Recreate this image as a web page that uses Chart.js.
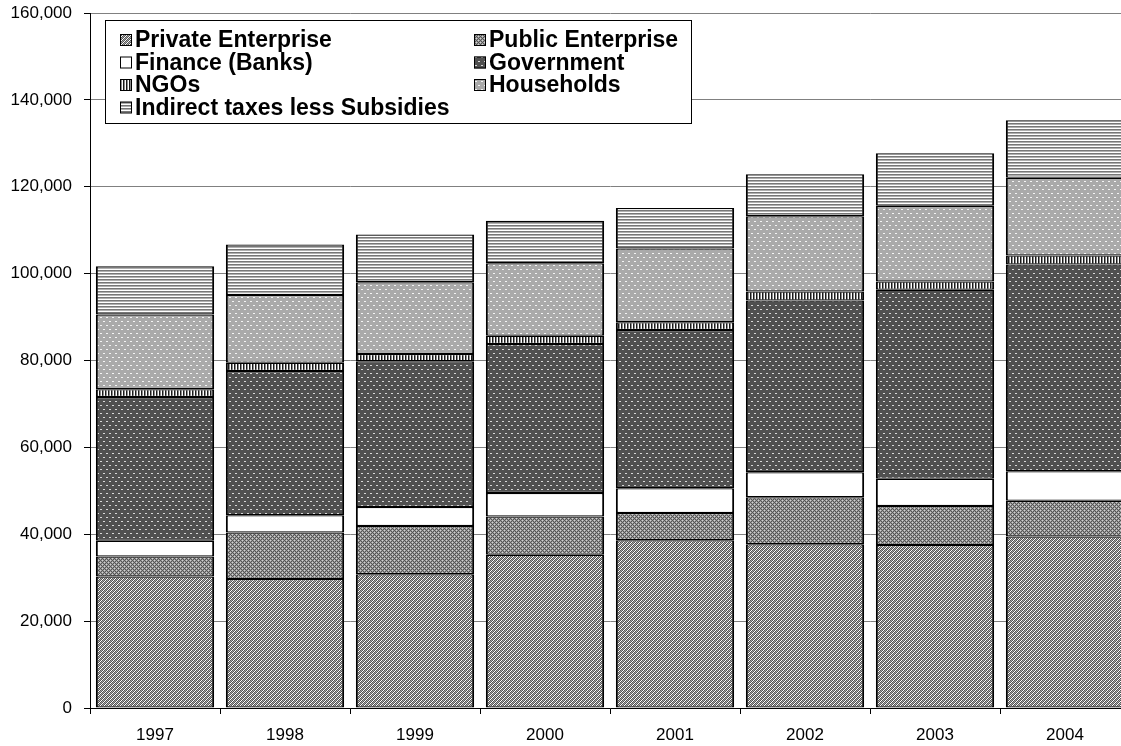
<!DOCTYPE html>
<html>
<head>
<meta charset="utf-8">
<script src="https://cdn.jsdelivr.net/npm/chart.js@4.4.1/dist/chart.umd.min.js"></script>
<style>
    html, body { margin: 0; padding: 0; background: #fff; overflow: hidden; }
    canvas { display: block; }
</style>
</head>
<body>
<canvas id="chart" width="1131" height="746"></canvas>
<script>
// Data
const years = ['1997', '1998', '1999', '2000', '2001', '2002', '2003', '2004'];
const privateEnterprise = [30300, 29700, 30800, 35300, 38600, 37700, 37500, 39500];
const publicEnterprise = [4600, 10700, 11100, 8800, 6300, 10800, 9000, 8200];
const finance = [3600, 4000, 4400, 5400, 5700, 5800, 6300, 6800];
const government = [33100, 33200, 33500, 34300, 36400, 39500, 43500, 47600];
const ngos = [1800, 1900, 1700, 1900, 1800, 2100, 1900, 2100];
const households = [17200, 15600, 16500, 16700, 17000, 17300, 17400, 17900];
const indirectTaxes = [11100, 11600, 11000, 9800, 9300, 9700, 12100, 13200];
const seriesNames = ['Private Enterprise', 'Public Enterprise', 'Finance (Banks)', 'Government', 'NGOs', 'Households', 'Indirect taxes less Subsidies'];
const yTicks = [0, 20000, 40000, 60000, 80000, 100000, 120000, 140000, 160000];

const FONT = '"Liberation Sans", Arial, sans-serif';

// Fill patterns, built pixel by pixel from small tiles
function makePattern(rows, palette) {
    const tile = document.createElement('canvas');
    tile.width = rows[0].length;
    tile.height = rows.length;
    const g = tile.getContext('2d');
    rows.forEach((row, y) => {
        [...row].forEach((ch, x) => {
            g.fillStyle = palette[ch];
            g.fillRect(x, y, 1, 1);
        });
    });
    return g.createPattern(tile, 'repeat');
}

const patterns = [
    // private: checker lattice with light dots
    makePattern(['kwkg', 'wkgk', 'kgkw', 'gkwk'], { k: '#555555', g: '#a8a8a8', w: '#ffffff' }),
    // public: fine grey texture, a bit denser
    makePattern(['dlgl', 'ldld', 'gldl', 'ldld'], { d: '#555555', l: '#9c9c9c', g: '#d0d0d0' }),
    // finance: plain white
    '#ffffff',
    // government: dark with light dashes
    makePattern(['dddddd', 'dllddd', 'dddddd', 'dddddd', 'dddddd', 'ddddll', 'dddddd', 'dddddd'],
        { d: '#505050', l: '#d8d8d8' }),
    // NGOs: vertical stripes
    makePattern(['kgw'], { k: '#1a1a1a', g: '#8c8c8c', w: '#ffffff' }),
    // households: light grey with white dashes
    makePattern(['dddddd', 'dllddd', 'dddddd', 'dddddd', 'dddddd', 'ddddll', 'dddddd', 'dddddd'],
        { d: '#aaaaaa', l: '#f4f4f4' }),
    // indirect taxes: horizontal stripes
    makePattern(['a', 'b', 'c'], { a: '#777777', b: '#b0b0b0', c: '#ffffff' })
];

const seriesValues = [privateEnterprise, publicEnterprise, finance, government, ngos, households, indirectTaxes];

const datasets = seriesValues.map((values, i) => ({
    label: seriesNames[i],
    data: values,
    backgroundColor: patterns[i],
    borderColor: '#000000',
    borderWidth: { left: 2, right: 2, top: 1.25, bottom: 1.25 },
    borderSkipped: false,
    categoryPercentage: 1.0,
    barPercentage: 0.91
}));

// Legend drawn inside the plot, two columns
const insideLegend = {
    id: 'insideLegend',
    afterDraw(chart) {
        const ctx = chart.ctx;
        const box = { x: 105.5, y: 20.5, w: 586, h: 103 };
        ctx.save();
        ctx.fillStyle = '#ffffff';
        ctx.fillRect(box.x, box.y, box.w, box.h);
        ctx.strokeStyle = '#000000';
        ctx.lineWidth = 1;
        ctx.strokeRect(box.x, box.y, box.w, box.h);

        const colX = [120, 474];
        const rowY = [40, 62.5, 85, 107.5];
        ctx.font = 'bold 23px ' + FONT;
        ctx.textBaseline = 'middle';
        chart.data.datasets.forEach((ds, i) => {
            const x = colX[i % 2];
            const y = rowY[Math.floor(i / 2)];
            ctx.fillStyle = ds.backgroundColor;
            ctx.fillRect(x, y - 6, 12, 12);
            ctx.strokeRect(x + 0.5, y - 5.5, 11, 11);
            ctx.fillStyle = '#000000';
            ctx.fillText(ds.label, x + 15, y + 1);
        });
        ctx.restore();
    }
};

new Chart(document.getElementById('chart'), {
    type: 'bar',
    data: { labels: years, datasets: datasets },
    plugins: [insideLegend],
    options: {
        responsive: false,
        animation: false,
        layout: { padding: { top: 13, right: 1, left: 0, bottom: 0 } },
        plugins: {
            legend: { display: false },
            tooltip: { enabled: false }
        },
        scales: {
            x: {
                stacked: true,
                grid: {
                    display: true,
                    drawOnChartArea: false,
                    offset: true,
                    tickLength: 6,
                    tickColor: '#000000'
                },
                border: { display: true, color: '#000000', width: 1 },
                ticks: {
                    color: '#000000',
                    font: { family: FONT, size: 17 },
                    padding: 11,
                    maxRotation: 0
                },
                afterFit(scale) {
                    scale.height = 38;
                    scale.paddingLeft = 0;
                    scale.paddingRight = 0;
                }
            },
            y: {
                stacked: true,
                min: yTicks[0],
                max: yTicks[yTicks.length - 1],
                afterBuildTicks(scale) {
                    scale.ticks = yTicks.map(v => ({ value: v }));
                },
                grid: {
                    color: '#808080',
                    lineWidth: 1,
                    tickLength: 6,
                    tickColor: '#000000'
                },
                border: { display: true, color: '#000000', width: 1 },
                ticks: {
                    color: '#000000',
                    font: { family: FONT, size: 17 },
                    padding: 12,
                    callback: v => v.toLocaleString('en-US')
                },
                afterFit(scale) {
                    scale.width = 90;
                    scale.paddingTop = 0;
                    scale.paddingBottom = 0;
                }
            }
        }
    }
});
</script>
</body>
</html>
